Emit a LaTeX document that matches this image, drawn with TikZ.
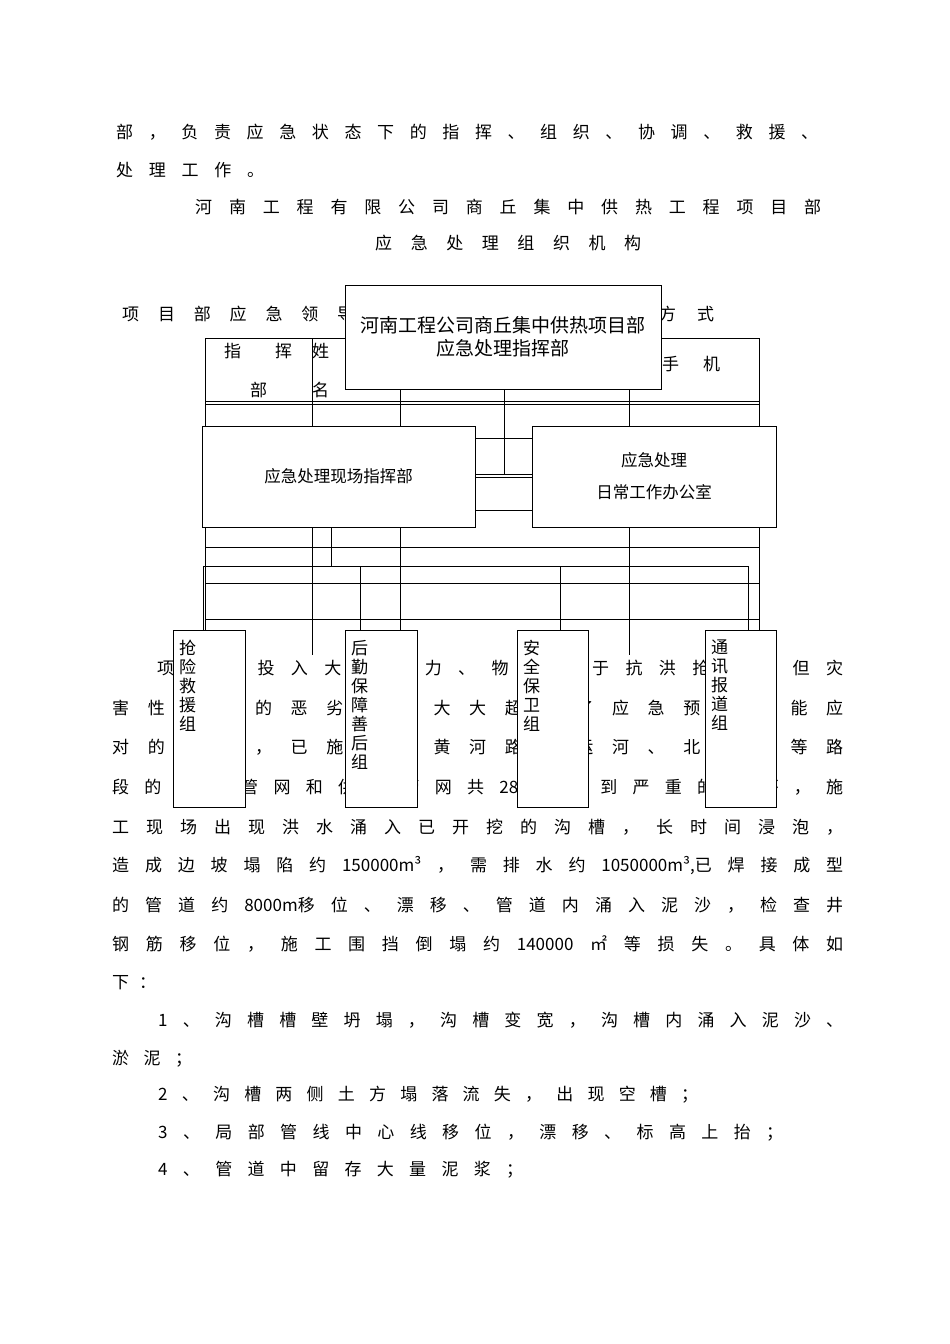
\documentclass[tikz,border=0pt]{standalone}
\usepackage{fontspec}
\newfontfamily\cjk{Noto Sans CJK SC}
\tikzset{
  txt/.style={anchor=west,inner sep=0pt,font=\cjk\fontsize{17}{19}\selectfont},
  box/.style={draw,fill=white,line width=0.8pt,inner sep=0pt},
  ln/.style={line width=0.6pt},
  vtxt/.style={anchor=north west,inner sep=0pt,align=left,font=\cjk\fontsize{17}{19}\selectfont}
}
\begin{document}
\begin{tikzpicture}[x=1pt,y=-1pt]
\def\spreadloop#1#2\endspread{#1\ifx\endspread#2\endspread\else\hfill\spreadloop#2\endspread\fi}
\def\spreadtext#1#2{\makebox[#1][s]{\spreadloop#2\endspread}}
\useasboundingbox[fill=white] (0,0) rectangle (950,1344);
% body text
\node[txt] (l1) at (116,132) {\spreadtext{702pt}{部，负责应急状态下的指挥、组织、协调、救援、}};
\node[txt] (l2) at (116,170) {\spreadtext{148pt}{处理工作。}};
\node[txt] (l3) at (195,207) {\spreadtext{626pt}{河南工程有限公司商丘集中供热工程项目部}};
\node[txt] (l4) at (375,243) {\spreadtext{266pt}{应急处理组织机构}};
\node[txt] (l5a) at (122,314) {\spreadtext{232pt}{项目部应急领导}};
\node[txt] (l5b) at (659,314) {\spreadtext{55pt}{方式}};
\node[txt] (c1) at (224,351) {\spreadtext{68pt}{指挥}};
\node[txt] (c2) at (250,390) {部};
\node[txt] (c3) at (312,351) {姓};
\node[txt] (c4) at (312,390) {名};
\node[txt] (c5) at (662,364) {\spreadtext{58pt}{手机}};
\node[txt] (b1) at (157,668) {\spreadtext{686pt}{项目部投入大量人力、物力用于抗洪抢险，但灾}};
\node[txt] (b2) at (112,708) {\spreadtext{731pt}{害性极大的恶劣天气大大超过了应急预案所能应}};
\node[txt] (b3) at (112,747) {\spreadtext{731pt}{对的程度，已施工的黄河路、运河、北海路等路}};
\node[txt] (b4) at (112,787) {\spreadtext{731pt}{段的热力管网和供水管网共{2800m}受到严重的破坏，施}};
\node[txt] (b5) at (112,827) {\spreadtext{731pt}{工现场出现洪水涌入已开挖的沟槽，长时间浸泡，}};
\node[txt] (b6) at (112,866) {\spreadtext{731pt}{造成边坡塌陷约{150000m³}，需排水约{1050000m³,已}焊接成型}};
\node[txt] (b7) at (112,905) {\spreadtext{731pt}{的管道约{8000m移}位、漂移、管道内涌入泥沙，检查井}};
\node[txt] (b8) at (112,944) {\spreadtext{731pt}{钢筋移位，施工围挡倒塌约{140000}{㎡}等损失。具体如}};
\node[txt] (b9) at (112,983) {\spreadtext{44pt}{下：}};
\node[txt] (b10) at (158,1020) {\spreadtext{685pt}{{1}、沟槽槽壁坍塌，沟槽变宽，沟槽内涌入泥沙、}};
\node[txt] (b11) at (112,1059) {\spreadtext{80pt}{淤泥；}};
\node[txt] (b12) at (158,1095) {\spreadtext{540pt}{{2}、沟槽两侧土方塌落流失，出现空槽；}};
\node[txt] (b13) at (158,1133) {\spreadtext{625pt}{{3}、局部管线中心线移位，漂移、标高上抬；}};
\node[txt] (b14) at (158,1170) {\spreadtext{365pt}{{4}、管道中留存大量泥浆；}};
% table grid
\foreach \y in {338,401,404,547,583,619} \draw[ln] (205,\y) -- (759,\y);
\draw[ln] (205,338) -- (205,630);
\draw[ln] (312,338) -- (312,655);
\draw[ln] (400,338) -- (400,630);
\draw[ln] (629,338) -- (629,655);
\draw[ln] (759,338) -- (759,630);
% boxes
\node[box,minimum width=316pt,minimum height=104pt,align=center,font=\cjk\fontsize{19}{23}\selectfont] (top) at (503,337) {河南工程公司商丘集中供热项目部\\应急处理指挥部};
\node[box,minimum width=273pt,minimum height=101pt,font=\cjk\fontsize{16.5}{20}\selectfont] (left) at (338.5,476.5) {应急处理现场指挥部};
\node[box,minimum width=244pt,minimum height=101pt,align=center,font=\cjk\fontsize{16.5}{20}\selectfont] (right) at (654,476.5) {应急处理\\[12pt]日常工作办公室};
\coordinate (j) at (504,474);
\draw[ln] (top.south -| j) -- (j);
\foreach \y in {438,474,477,510} \draw[ln] (left.east |- 0,\y) -- (right.west |- 0,\y);
% lower connectors
\coordinate (h) at (331,566);
\draw[ln] (left.south -| h) -- (h);
\draw[ln] (203,566) -- (748,566);
\node[box,minimum width=72pt,minimum height=177pt] (g1) at (209,718.5) {};
\node[box,minimum width=72pt,minimum height=177pt] (g2) at (381,718.5) {};
\node[box,minimum width=71pt,minimum height=177pt] (g3) at (552.5,718.5) {};
\node[box,minimum width=71pt,minimum height=177pt] (g4) at (740.5,718.5) {};
\draw[ln] (203,566) -- (g1.north -| 203,0);
\draw[ln] (360,566) -- (g2.north -| 360,0);
\draw[ln] (560,566) -- (g3.north -| 560,0);
\draw[ln] (748,566) -- (g4.north -| 748,0);
\node[vtxt] (g1t) at (179,640) {抢\\险\\救\\援\\组};
\node[vtxt] (g2t) at (351,640) {后\\勤\\保\\障\\善\\后\\组};
\node[vtxt] (g3t) at (523,640) {安\\全\\保\\卫\\组};
\node[vtxt] (g4t) at (711,640) {通\\讯\\报\\道\\组};
\end{tikzpicture}
\end{document}
